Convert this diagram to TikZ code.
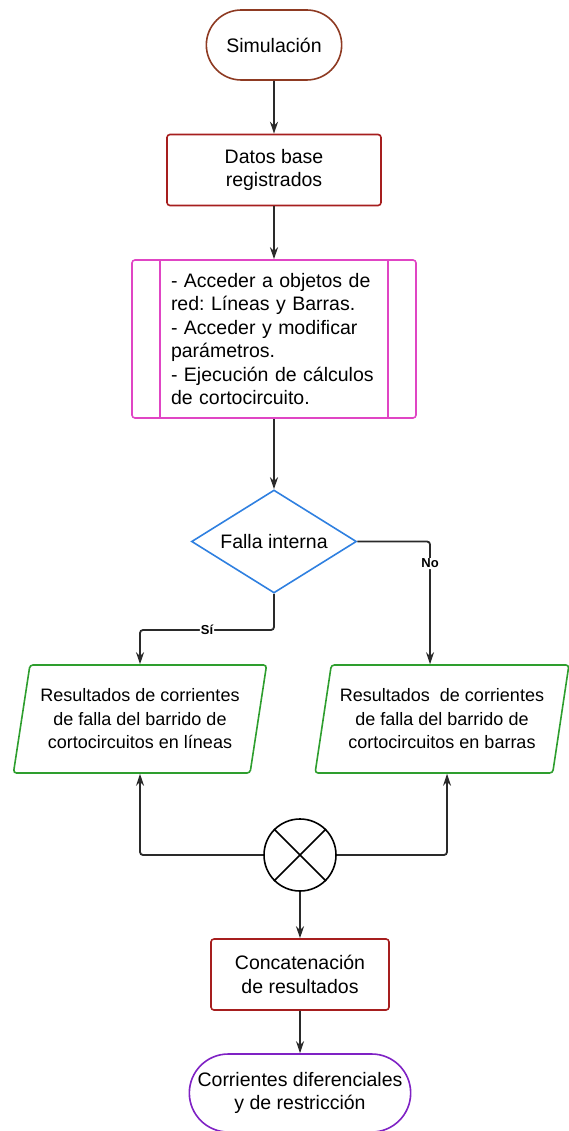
\documentclass[tikz,border=0pt]{standalone}
\usepackage{fontspec}
\setmainfont{Liberation Sans}
\usetikzlibrary{shapes, arrows.meta, positioning}

\definecolor{brownred}{HTML}{8E3A22}
\definecolor{darkred}{HTML}{A61E1E}
\definecolor{magentabox}{HTML}{E045C4}
\definecolor{bluedec}{HTML}{2F80E0}
\definecolor{greenio}{HTML}{2E9E2E}
\definecolor{purpleend}{HTML}{7F22C4}
\definecolor{linegray}{HTML}{2A2A2A}

\begin{document}
\frenchspacing
\begin{tikzpicture}[x=1pt, y=-1pt, font=\fontsize{19.5}{23.5}\selectfont]
\tikzstyle{flow}=[->, >={Stealth[length=12pt,width=8pt]}, line width=1.8pt, draw=linegray, rounded corners=3pt]
\tikzstyle{term}=[draw, rounded rectangle, line width=1.6pt, align=center]
\tikzstyle{box}=[draw, rectangle, rounded corners=3pt, line width=1.6pt, align=center]
\tikzstyle{io}=[draw=greenio, trapezium, trapezium left angle=77, trapezium right angle=103, trapezium stretches=true, minimum width=254pt, minimum height=108pt, line width=1.6pt, rounded corners=3pt, align=center, font=\fontsize{18}{23.5}\selectfont]
\tikzstyle{lbl}=[fill=white, inner sep=1pt, font=\bfseries\fontsize{13}{13}\selectfont]

\useasboundingbox (0,0) rectangle (568,1131);

\node[term, draw=brownred, minimum width=142pt, minimum height=70pt]	(sim)	at (274,45)	{Simulación};
\node[box, draw=darkred, minimum width=214pt, minimum height=71pt]	(datos)	at (274,170)	{Datos base\\registrados};
\node[box, draw=magentabox, minimum width=284pt, minimum height=158pt, text width=206pt, align=left, execute at begin node={\hyphenpenalty=10000\relax}]	(proc)	at (274,339)
	{- Acceder a objetos de\\red: Líneas y Barras.\\- Acceder y modificar\\parámetros.\\- Ejecución de cálculos\\de cortocircuito.};
\draw[magentabox, line width=1.6pt] ([xshift=29pt]proc.north west) -- ([xshift=29pt]proc.south west)
	([xshift=-29pt]proc.north east) -- ([xshift=-29pt]proc.south east);

\node[draw=bluedec, diamond, shape aspect=1.6, minimum width=165pt, minimum height=103pt, line width=1.6pt, inner sep=1pt]	(dec)	at (274,541.5)	{Falla interna};

\node[io]	(lineas)	at (140,719)	{Resultados de corrientes\\de falla del barrido de\\cortocircuitos en líneas};
\node[io]	(barras)	at (442,719)	{Resultados\ \ de corrientes\\de falla del barrido de\\cortocircuitos en barras};

\node[draw, circle, minimum size=72pt, line width=1.6pt, inner sep=0pt]	(mix)	at (300,855)	{};
\draw[line width=1.6pt] (mix.45) -- (mix.225) (mix.135) -- (mix.315);

\node[box, draw=darkred, minimum width=178pt, minimum height=71pt]	(conc)	at (300,974.5)	{Concatenación\\de resultados};
\node[term, draw=purpleend, minimum width=228pt, minimum height=78pt]	(fin)	at (300,1093)	{Corrientes diferenciales\\y de restricción};

\coordinate (si) at (140,630);

\path[flow]
(sim)	edge	(datos)
(datos)	edge	(proc)
(proc)	edge	(dec)
(mix)	edge	(conc)
(conc)	edge	(fin);

\draw[flow] (dec.south) |- node[pos=0.75, lbl]{Sí} (si) -- (lineas.north);
\draw[flow] (dec.east) -| node[pos=0.59, lbl]{No} ([xshift=-12pt]barras.north);
\draw[flow] (mix.west) -| (lineas.south);
\draw[flow] (mix.east) -| ([xshift=5pt]barras.south);

\end{tikzpicture}
\end{document}
